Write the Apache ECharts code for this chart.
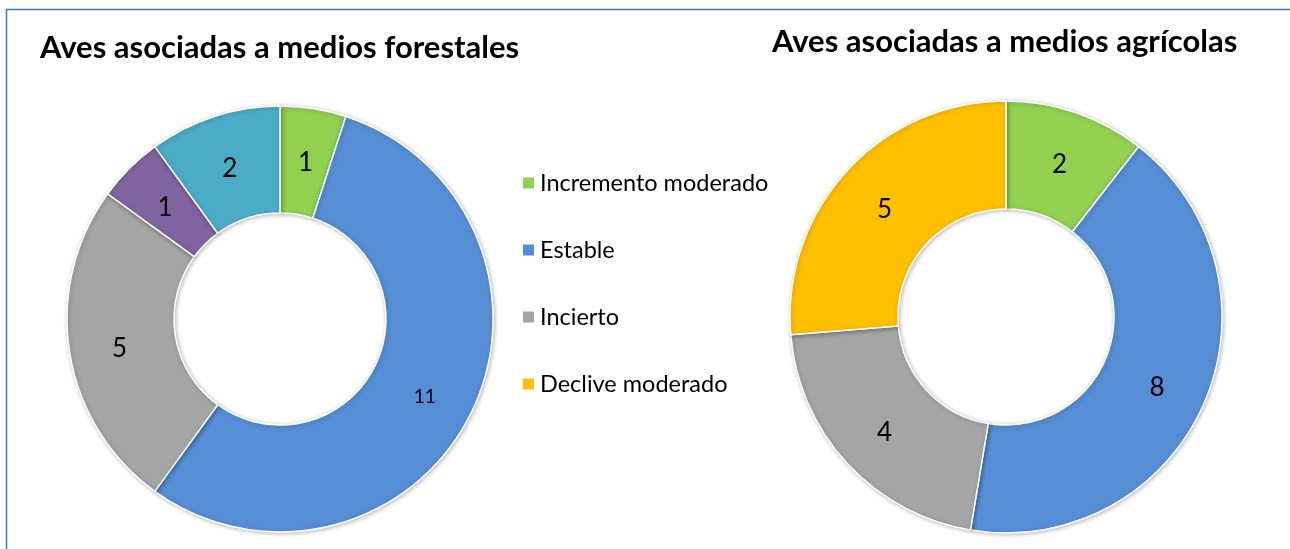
<!DOCTYPE html>
<html>
<head>
<meta charset="utf-8"/>
<title>Aves asociadas</title>
<script src="https://cdn.jsdelivr.net/npm/echarts@6/dist/echarts.min.js"></script>
<style>
html,body{margin:0;padding:0;background:#fff;}
#main{width:1290px;height:549px;}
</style>
</head>
<body>
<div id="main"></div>
<script type="text/javascript">
// categorias y valores
var legendNames = ['Incremento moderado', 'Estable', 'Incierto', 'Declive moderado'];

var forestNames = ['Incremento moderado', 'Estable', 'Incierto', 'Declive fuerte', 'Incremento fuerte'];
var forestValues = [1, 11, 5, 1, 2];
var forestColors = ['#92D050', '#558ED5', '#A5A5A5', '#8064A2', '#4BACC6'];

var agriNames = ['Incremento moderado', 'Estable', 'Incierto', 'Declive moderado'];
var agriValues = [2, 8, 4, 5];
var agriColors = ['#92D050', '#558ED5', '#A5A5A5', '#FFC000'];

var font = 'Lato, "Open Sans", sans-serif';

function buildData(names, values, colors){
	var out = [];
	for (var i = 0; i < names.length; i++) {
		out.push({
			name: names[i],
			value: values[i],
			itemStyle: {color: colors[i]},
			label: {
				show: true,
				position: 'inside',
				color: '#000',
				fontFamily: 'Lato',
				fontSize: values[i] > 9 ? 19 : 26,
				offset: [0, 4]
			}
		});
	}
	return out;
}

var sliceStyle = {
	borderColor: '#fff',
	borderWidth: 1.5,
	shadowBlur: 4,
	shadowColor: 'rgba(0,0,0,0.25)',
	shadowOffsetX: 1,
	shadowOffsetY: 1
};

var myChart = echarts.init(document.getElementById('main'));
var option = {
	backgroundColor: '#fff',
	animation: false,
	graphic: [{
		type: 'rect',
		shape: {x: 6.5, y: 9.5, width: 1400, height: 600},
		style: {fill: 'none', stroke: '#3A78C2', lineWidth: 1.5},
		silent: true
	}],
	title: [{
		text: 'Aves asociadas a medios forestales',
		left: 35, top: 27,
		textStyle: {fontFamily: font, fontWeight: 'bold', fontSize: 31, color: '#000'}
	}, {
		text: 'Aves asociadas a medios agrícolas',
		left: 767, top: 21,
		textStyle: {fontFamily: font, fontWeight: 'bold', fontSize: 31, color: '#000'}
	}],
	legend: {
		data: legendNames,
		orient: 'vertical',
		left: 516, top: 166,
		itemWidth: 13, itemHeight: 13,
		itemGap: 43,
		icon: 'rect',
		textStyle: {fontFamily: font, fontSize: 23.5, color: '#000'},
		selectedMode: false
	},
	series: [{
		name: 'forestales',
		type: 'pie',
		center: [280, 319],
		radius: [106, 213],
		startAngle: 90,
		clockwise: true,
		avoidLabelOverlap: false,
		label: {show: true, position: 'inside', formatter: '{c}', color: '#000', fontSize: 26},
		labelLine: {show: false},
		labelLayout: {hideOverlap: false},
		itemStyle: sliceStyle,
		data: buildData(forestNames, forestValues, forestColors)
	}, {
		name: 'agricolas',
		type: 'pie',
		center: [1006, 317],
		radius: [108, 216],
		startAngle: 90,
		clockwise: true,
		avoidLabelOverlap: false,
		label: {show: true, position: 'inside', formatter: '{c}', color: '#000', fontSize: 26},
		labelLine: {show: false},
		labelLayout: {hideOverlap: false},
		itemStyle: sliceStyle,
		data: buildData(agriNames, agriValues, agriColors)
	}]
};
myChart.setOption(option);
</script>
</body>
</html>
